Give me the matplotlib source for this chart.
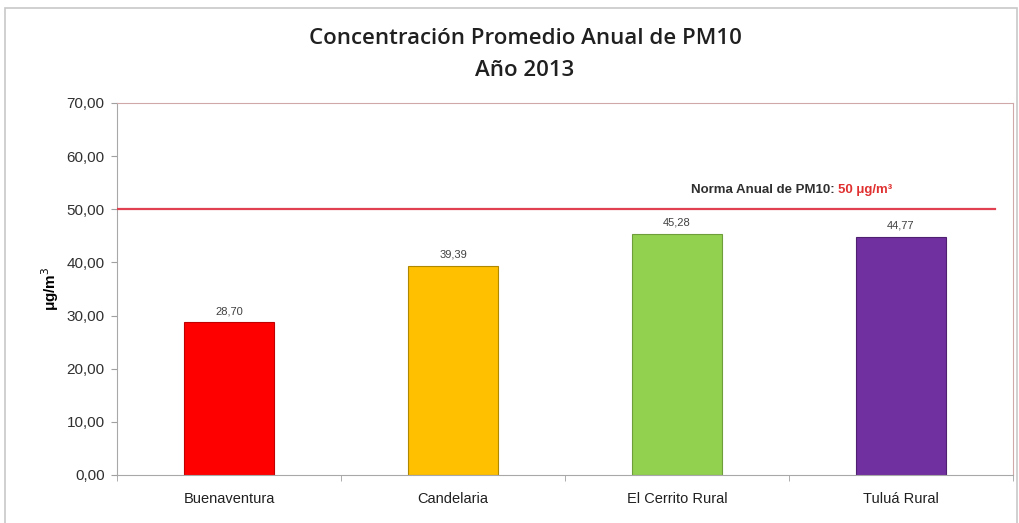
import numpy as np
from matplotlib import pyplot as plt
from matplotlib.patches import Rectangle

stations = ['Buenaventura', 'Candelaria', 'El Cerrito Rural', 'Tuluá Rural']
pm10 = [28.70, 39.39, 45.28, 44.77]
colors = ['#FF0000', '#FFC000', '#92D050', '#7030A0']
edges = ['#C00000', '#B08800', '#6E9E3A', '#4F2070']
norma = 50
yticks = [0, 10, 20, 30, 40, 50, 60, 70]

fig = plt.figure(figsize=(10.19, 5.23), dpi=100)
fig.patches.append(Rectangle((0.005, -0.02), 0.993, 1.005, transform=fig.transFigure,
                             fill=False, edgecolor='#C8C8C8', linewidth=1.2))
ax = fig.add_axes([117 / 1019, 1 - 475 / 523, (1013 - 117) / 1019, (475 - 103) / 523])

x = np.arange(len(stations))
ax.bar(x, pm10, width=0.40, color=colors, edgecolor=edges, linewidth=0.8, zorder=2)
for xi, v in zip(x, pm10):
    ax.text(xi, v + 1.2, '{:.2f}'.format(v).replace('.', ','), ha='center', va='bottom',
            fontsize=8, color='#404040', family='Liberation Sans')

# linea de la norma anual
ax.axhline(norma, xmin=0, xmax=0.98, color='#E04050', linewidth=1.6, zorder=3)
ax.text(2.72, norma + 2.5, 'Norma Anual de PM10: ', ha='right', va='bottom',
        fontsize=9.5, fontweight='bold', color='#303030', family='Liberation Sans')
ax.text(2.72, norma + 2.5, '50 μg/m³', ha='left', va='bottom',
        fontsize=9.5, fontweight='bold', color='#E03030', family='Liberation Sans')

ax.set_xlim(-0.5, 3.5)
ax.set_ylim(0, 70)
ax.set_yticks(yticks)
ax.set_yticklabels(['{:.2f}'.format(t).replace('.', ',') for t in yticks],
                   fontsize=11, color='#303030', family='Liberation Sans')
ax.set_xticks(x)
ax.set_xticklabels(stations, fontsize=10.5, color='#202020', family='Liberation Sans')
ax.set_xticks(np.arange(-0.5, 4, 1), minor=True)
ax.tick_params(axis='x', which='major', length=0, pad=12)
ax.tick_params(axis='x', which='minor', length=4, color='#A0A0A0', direction='out')
ax.tick_params(axis='y', length=4, color='#A0A0A0', direction='out', pad=5)

ax.set_ylabel('μg/m$^3$', fontsize=11, fontweight='bold', family='Liberation Sans', labelpad=4)

for s in ['left', 'bottom']:
    ax.spines[s].set_color('#A8A8A8')
for s in ['top', 'right']:
    ax.spines[s].set_color('#D0A8A8')

fig.text(525 / 1019, 1 - 38 / 523, 'Concentración Promedio Anual de PM10', ha='center', va='center',
         fontsize=16, fontweight='semibold', family='Open Sans', color='#202020')
fig.text(525 / 1019, 1 - 70 / 523, 'Año 2013', ha='center', va='center',
         fontsize=16, fontweight='semibold', family='Open Sans', color='#202020')

fig.savefig('out.png', dpi=100)
